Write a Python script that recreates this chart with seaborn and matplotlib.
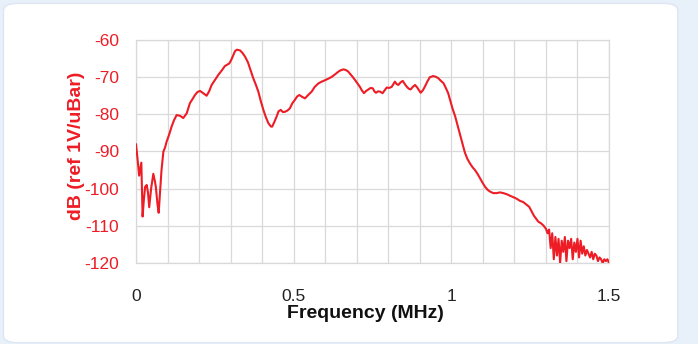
import matplotlib
matplotlib.use('Agg')
import matplotlib.pyplot as plt
from matplotlib.patches import FancyBboxPatch
import seaborn as sns
import pandas as pd

# Frequency response
freq_mhz = [
    0.000, 0.005, 0.010, 0.013, 0.017, 0.021, 0.025, 0.029, 0.034, 0.038,
    0.042, 0.048, 0.055, 0.060, 0.063, 0.068, 0.072, 0.077, 0.081, 0.087,
    0.092, 0.097, 0.105, 0.113, 0.121, 0.129, 0.140, 0.150, 0.161, 0.171,
    0.180, 0.187, 0.195, 0.203, 0.213, 0.224, 0.232, 0.240, 0.250, 0.261,
    0.272, 0.282, 0.296, 0.303, 0.309, 0.314, 0.320, 0.330, 0.338, 0.346,
    0.355, 0.365, 0.372, 0.380, 0.388, 0.396, 0.404, 0.412, 0.420, 0.428,
    0.432, 0.439, 0.446, 0.452, 0.459, 0.466, 0.473, 0.480, 0.488, 0.496,
    0.504, 0.511, 0.518, 0.527, 0.536, 0.546, 0.557, 0.567, 0.578, 0.589,
    0.600, 0.610, 0.621, 0.632, 0.642, 0.650, 0.658, 0.666, 0.673, 0.684,
    0.695, 0.710, 0.716, 0.723, 0.730, 0.737, 0.744, 0.751, 0.756, 0.761,
    0.768, 0.774, 0.782, 0.789, 0.795, 0.803, 0.811, 0.821, 0.826, 0.832,
    0.839, 0.846, 0.852, 0.859, 0.865, 0.871, 0.878, 0.885, 0.892, 0.898,
    0.903, 0.910, 0.917, 0.925, 0.932, 0.943, 0.951, 0.959, 0.967, 0.975,
    0.982, 0.990, 0.996, 1.004, 1.012, 1.020, 1.028, 1.036, 1.043, 1.051,
    1.059, 1.067, 1.075, 1.083, 1.091, 1.099, 1.107, 1.115, 1.123, 1.133,
    1.144, 1.154, 1.165, 1.176, 1.186, 1.197, 1.207, 1.218, 1.228, 1.237,
    1.247, 1.255, 1.262, 1.270, 1.276, 1.284, 1.292, 1.300,
    1.305, 1.310, 1.315, 1.320, 1.325, 1.330, 1.335, 1.340, 1.345, 1.350,
    1.355, 1.360, 1.365, 1.370, 1.375, 1.380, 1.385, 1.390, 1.395, 1.400,
    1.405, 1.410, 1.415, 1.420, 1.425, 1.430, 1.435, 1.440, 1.445, 1.450,
    1.455, 1.460, 1.465, 1.470, 1.475, 1.480, 1.485, 1.490, 1.495, 1.500,
]
level_db = [
    -88.0, -92.0, -96.5, -95.0, -93.0, -107.5, -103.0, -99.5, -99.0, -101.0,
    -105.0, -100.0, -96.0, -98.0, -99.5, -104.0, -106.5, -100.0, -95.0, -90.0,
    -89.0, -87.4, -85.5, -83.3, -81.5, -80.2, -80.4, -81.0, -79.7, -77.0,
    -75.8, -74.8, -74.0, -73.7, -74.3, -75.0, -73.8, -72.1, -70.8, -69.4,
    -68.2, -67.0, -66.3, -65.2, -64.0, -63.0, -62.6, -62.8, -63.5, -64.5,
    -66.0, -68.5, -70.3, -72.0, -73.9, -76.5, -78.8, -80.8, -82.4, -83.3,
    -83.3, -82.0, -80.6, -79.2, -78.8, -79.4, -79.3, -79.0, -78.4, -77.0,
    -76.1, -75.2, -74.8, -75.3, -75.7, -74.8, -73.9, -72.6, -71.7, -71.2,
    -70.8, -70.4, -69.9, -69.2, -68.5, -68.1, -67.9, -68.1, -68.5, -69.6,
    -70.8, -72.6, -73.5, -74.3, -73.7, -73.3, -72.9, -73.0, -73.8, -74.2,
    -73.8, -73.9, -74.3, -73.5, -72.8, -72.9, -72.6, -71.2, -71.8, -72.1,
    -71.4, -71.0, -71.8, -72.6, -73.1, -73.3, -72.6, -72.1, -72.8, -73.6,
    -74.2, -73.5, -72.4, -71.0, -70.0, -69.7, -69.9, -70.3, -71.0, -71.6,
    -72.8, -74.3, -76.1, -78.5, -80.5, -83.0, -85.6, -88.0, -90.3, -92.0,
    -93.2, -94.2, -95.0, -96.0, -97.2, -98.4, -99.5, -100.3, -100.8, -101.2,
    -101.2, -101.0, -101.2, -101.5, -101.9, -102.3, -102.7, -103.3, -103.6, -104.2,
    -104.9, -106.2, -107.3, -108.2, -108.9, -109.3, -109.9, -110.8,
    -112.0, -111.0, -116.0, -112.0, -119.0, -113.0, -118.0, -113.5, -120.0, -114.0,
    -117.0, -113.0, -119.5, -114.0, -116.0, -113.5, -119.0, -114.5, -117.0, -113.5,
    -118.5, -114.0, -117.5, -115.5, -118.0, -116.5, -117.5, -118.5, -117.0, -119.0,
    -117.5, -118.0, -119.5, -118.5, -119.0, -120.0, -119.0, -119.5, -119.0, -120.0,
]

x_ticks = [0, 0.5, 1, 1.5]
x_tick_labels = ['0', '0.5', '1', '1.5']
y_ticks = [-120, -110, -100, -90, -80, -70, -60]

df = pd.DataFrame({'freq': freq_mhz, 'db': level_db})

red = '#ee1c25'
grid_col = '#d9d9d9'

sns.set_style('white')
plt.rcParams['font.family'] = ['Liberation Sans', 'DejaVu Sans']
plt.rcParams['axes.unicode_minus'] = False

fig = plt.figure(figsize=(6.98, 3.44), dpi=100)
fig.patch.set_facecolor('#e8f0fa')

# white card behind the chart
card = FancyBboxPatch((0.005, 0.004), 0.966, 0.986, boxstyle='round,pad=0,rounding_size=0.02',
                      transform=fig.transFigure, facecolor='white', edgecolor='#dde6f2',
                      linewidth=1, zorder=-10)
fig.patches.append(card)

ax = fig.add_axes([0.1948, 0.2355, 0.6777, 0.6482])
ax.set_zorder(1)
ax.set_facecolor('white')

sns.lineplot(data=df, x='freq', y='db', color=red, linewidth=1.5, estimator=None,
             sort=False, ax=ax, zorder=3)

ax.set_xlim(0, 1.5)
ax.set_ylim(-120, -60)

# grid every 0.1 MHz and 10 dB
ax.set_xticks([i / 10 for i in range(16)], minor=True)
ax.set_xticks(x_ticks)
ax.set_xticklabels(x_tick_labels)
ax.set_yticks(y_ticks)
ax.grid(True, which='both', color=grid_col, linewidth=0.9)
ax.set_axisbelow(True)
for s in ax.spines.values():
    s.set_color(grid_col)
    s.set_linewidth(0.9)

ax.tick_params(axis='x', which='both', length=4, color=grid_col, pad=15,
               labelsize=12.5, labelcolor='#222222')
ax.tick_params(axis='y', length=3, color=grid_col, pad=9, labelsize=12.5, labelcolor=red)

ax.set_xlabel('')
ax.set_ylabel('')
fig.text(0.523, 0.088, 'Frequency (MHz)', ha='center', va='center',
         fontsize=14, fontweight='bold', color='#111111')
fig.text(0.109, 0.577, 'dB (ref 1V/uBar)', ha='center', va='center', rotation=90,
         fontsize=14, fontweight='bold', color=red)

fig.savefig('out.png', dpi=100, facecolor=fig.get_facecolor())
